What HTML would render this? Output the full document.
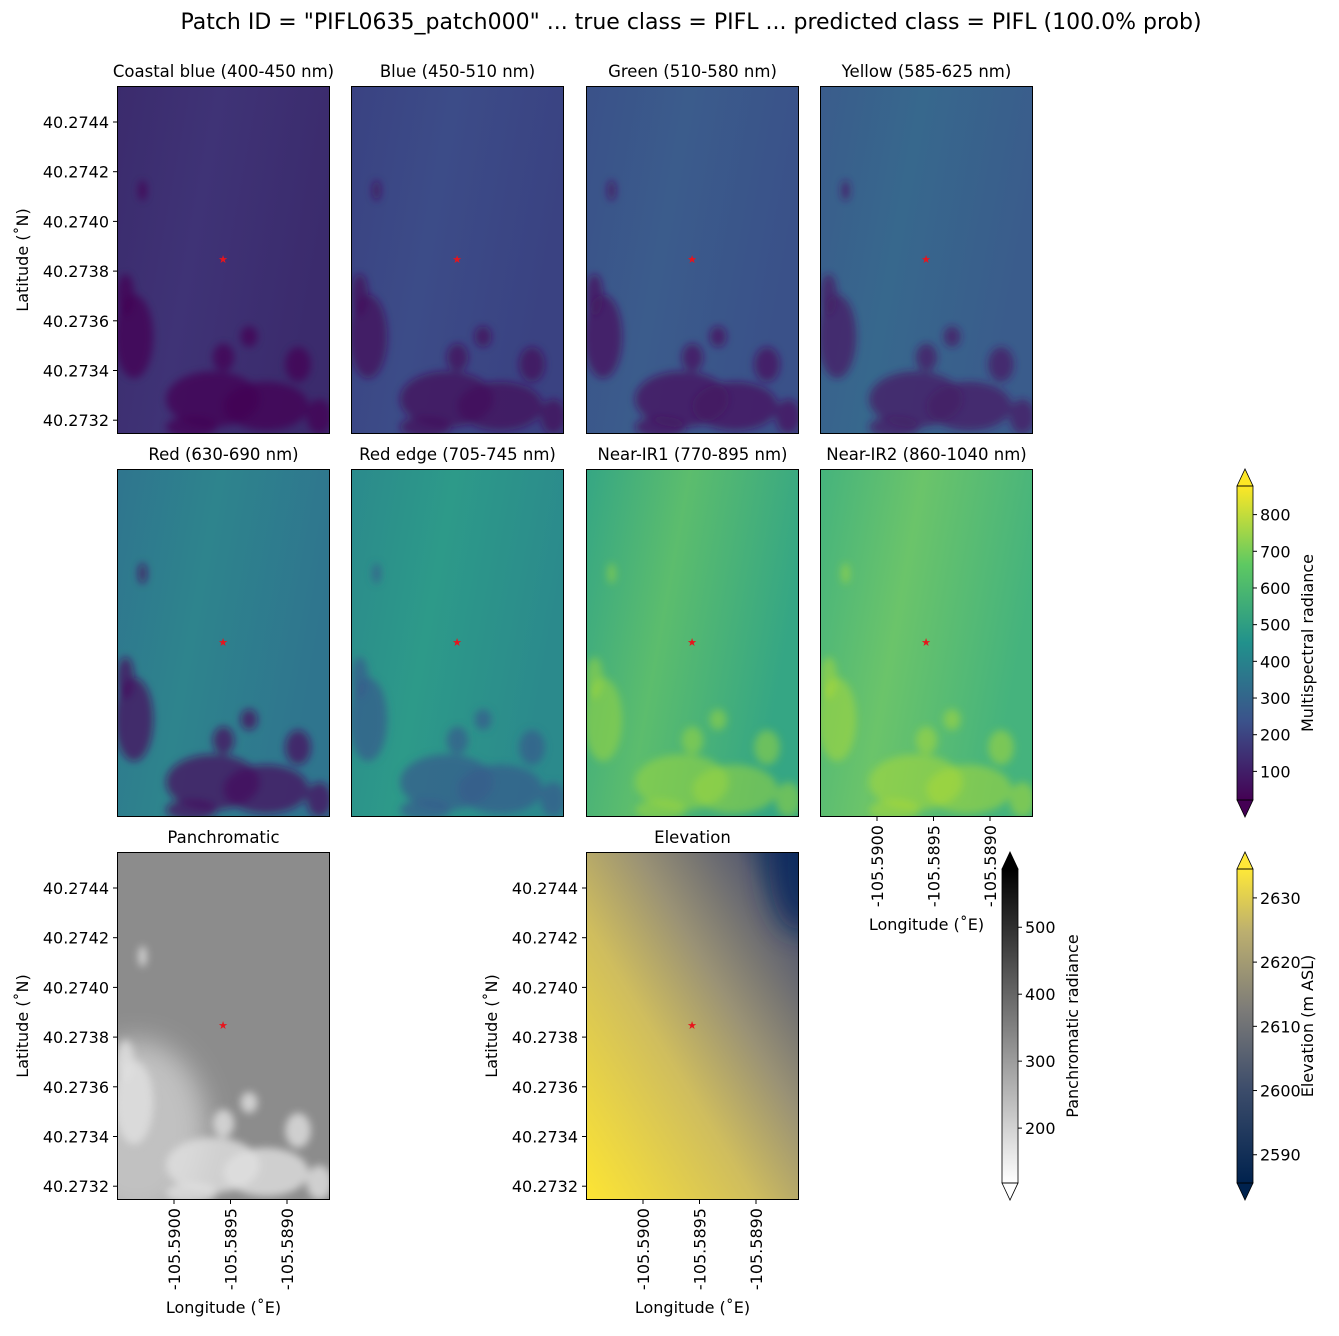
<!DOCTYPE html>
<html><head><meta charset="utf-8"><style>
body{margin:0;background:#fff;font-family:"DejaVu Sans","Liberation Sans",sans-serif;}
svg text{font-family:"DejaVu Sans","Liberation Sans",sans-serif;fill:#000;}
</style></head><body>
<svg id="fig" width="1339" height="1332" viewBox="0 0 1339 1332" xmlns="http://www.w3.org/2000/svg">
<defs>
<clipPath id="pclip"><rect x="0" y="0" width="213" height="348"/></clipPath>
<linearGradient id="viridis" x1="0" y1="1" x2="0" y2="0">
<stop offset="0" stop-color="#440154"/><stop offset="0.25" stop-color="#3b528b"/><stop offset="0.5" stop-color="#21918c"/><stop offset="0.75" stop-color="#5ec962"/><stop offset="1" stop-color="#fde725"/></linearGradient>
<linearGradient id="greys" x1="0" y1="1" x2="0" y2="0"><stop offset="0" stop-color="#fff"/><stop offset="1" stop-color="#000"/></linearGradient>
<linearGradient id="cividis" x1="0" y1="1" x2="0" y2="0"><stop offset="0" stop-color="#00224e"/><stop offset="0.3" stop-color="#3d4d6b"/><stop offset="0.55" stop-color="#7c7b78"/><stop offset="0.8" stop-color="#bcaf6f"/><stop offset="1" stop-color="#fee838"/></linearGradient>
<linearGradient id="elevg" x1="0" y1="1" x2="1" y2="0"><stop offset="0" stop-color="#fde533"/><stop offset="0.4" stop-color="#cfbd5e"/><stop offset="0.62" stop-color="#9a9275"/><stop offset="0.85" stop-color="#5d6070"/><stop offset="1" stop-color="#0a2a5e"/></linearGradient>
<filter id="blur" x="-50%" y="-50%" width="200%" height="200%"><feGaussianBlur stdDeviation="4"/></filter>
<filter id="blur2" x="-100%" y="-100%" width="300%" height="300%"><feGaussianBlur stdDeviation="14"/></filter>
</defs>
<text x="691" y="29" font-size="22" text-anchor="middle">Patch ID = "PIFL0635_patch000" ... true class = PIFL ... predicted class = PIFL (100.0% prob)</text>
<g id="panels"></g>
</svg>
<script>
const bandNames=["Coastal blue (400-450 nm)","Blue (450-510 nm)","Green (510-580 nm)","Yellow (585-625 nm)","Red (630-690 nm)","Red edge (705-745 nm)","Near-IR1 (770-895 nm)","Near-IR2 (860-1040 nm)"];
const bandBase=["#3b2b6d","#3a4282","#3a5189","#3a5c8c","#2f758e","#2b8a8c","#35a684","#45b37d"];
const bandLight=["#3f3376","#3c4c88","#3b5c8c","#37688d","#2e848d","#2d9a89","#5cbd6d","#6bc46a"];
const bandDark=["#440154","#440f5c","#451560","#461d65","#45105f","#355e8c","#2e8a8c","#3a9d86"];
const bandBright=[null,null,null,null,null,null,"#a2da37","#b0dc30"];
const latTicks=["40.2744","40.2742","40.2740","40.2738","40.2736","40.2734","40.2732"];
const latVals=[40.2744,40.2742,40.2740,40.2738,40.2736,40.2734,40.2732];
const lonTicks=["-105.5900","-105.5895","-105.5890"];
const lonVals=[-105.5900,-105.5895,-105.5890];
const msTicks=[100,200,300,400,500,600,700,800];
const panTicks=[200,300,400,500];
const elevTicks=[2590,2600,2610,2620,2630];
const blobs=[[0.08,0.72,0.09,0.12],[0.04,0.6,0.04,0.06],[0.45,0.9,0.22,0.08],[0.7,0.92,0.2,0.07],[0.5,0.78,0.05,0.04],[0.62,0.72,0.04,0.03],[0.85,0.8,0.06,0.05],[0.35,0.98,0.12,0.03],[0.12,0.3,0.02,0.03],[0.95,0.95,0.06,0.05]];
const NS="http://www.w3.org/2000/svg";
const g=document.getElementById('panels');
const PW=213,PH=348;
function el(t,a,p){const e=document.createElementNS(NS,t);for(const k in a)e.setAttribute(k,a[k]);(p||g).appendChild(e);return e;}
const latY=v=>36+(40.2744-v)/0.0002*49.7;
const lonX=v=>57+(v+105.5900)/0.0005*56.5;
function star(x,y,p){const s=el('text',{x:x,y:y+4,'font-size':11,'text-anchor':'middle',style:'fill:#e8141c'},p);s.textContent='★';}
function panel(x,y,title,name){
 const p=el('g',{transform:`translate(${x},${y})`});
 
 const t=el('text',{x:PW/2,y:-9,'font-size':16.5,'text-anchor':'middle'},p);t.textContent=title;
 
 return p;}
function latAxis(p){for(let i=0;i<latVals.length;i++){const yy=latY(latVals[i]);el('line',{x1:-4,x2:0,y1:yy,y2:yy,stroke:'#000'},p);const t=el('text',{x:-8,y:yy+6,'font-size':16,'text-anchor':'end'},p);t.textContent=latTicks[i];}
 const l=el('text',{x:0,y:0,'font-size':16,'text-anchor':'middle',transform:`translate(-89,${PH/2}) rotate(-90)`},p);l.textContent='Latitude (˚N)';}
function lonAxis(p){for(let i=0;i<lonVals.length;i++){const xx=lonX(lonVals[i]);el('line',{x1:xx,x2:xx,y1:PH,y2:PH+4,stroke:'#000'},p);const t=el('text',{x:0,y:0,'font-size':16,'text-anchor':'end',transform:`translate(${xx+6},${PH+8}) rotate(-90)`},p);t.textContent=lonTicks[i];}
 const l=el('text',{x:PW/2,y:PH+113,'font-size':16,'text-anchor':'middle'},p);l.textContent='Longitude (˚E)';}
const px=[117,351,586,820],py=[86,469];
bandNames.forEach((nm,i)=>{
 const p=panel(px[i%4],py[Math.floor(i/4)],nm,'band-panel-'+i);
 const c=el('g',{'clip-path':'url(#pclip)'},p);
 const id='bg'+i;const lg=el('linearGradient',{id:id,x1:0,y1:0,x2:1,y2:0.3},document.querySelector('defs'));
 el('stop',{offset:0,'stop-color':bandBase[i]},lg);el('stop',{offset:0.45,'stop-color':bandLight[i]},lg);el('stop',{offset:1,'stop-color':bandBase[i]},lg);
 el('rect',{x:0,y:0,width:PW,height:PH,fill:`url(#${id})`},c);
 const bg=el('g',{filter:'url(#blur)'},c);
 blobs.forEach(b=>el('ellipse',{cx:b[0]*PW,cy:b[1]*PH,rx:b[2]*PW,ry:b[3]*PH,fill:bandBright[i]||bandDark[i],opacity:bandBright[i]?0.5:0.75},bg));
 el('rect',{x:0.5,y:0.5,width:PW-1,height:PH-1,fill:'none',stroke:'#000'},p);
 star(106,173,p);
 if(i===0)latAxis(p);
 if(i===7)lonAxis(p);
});
const pp=panel(117,852,'Panchromatic','panchromatic-panel');
const pc=el('g',{'clip-path':'url(#pclip)'},pp);
el('rect',{x:0,y:0,width:PW,height:PH,fill:'#8c8c8c'},pc);
el('ellipse',{cx:20,cy:PH*0.8,rx:70,ry:90,fill:'#d8d8d8',opacity:0.7,filter:'url(#blur2)'},pc);
const pg=el('g',{filter:'url(#blur)'},pc);
blobs.forEach(b=>el('ellipse',{cx:b[0]*PW,cy:b[1]*PH,rx:b[2]*PW,ry:b[3]*PH,fill:'#e0e0e0',opacity:0.8},pg));
el('rect',{x:0.5,y:0.5,width:PW-1,height:PH-1,fill:'none',stroke:'#000'},pp);
star(106,173,pp);latAxis(pp);lonAxis(pp);
const ep=panel(586,852,'Elevation','elevation-panel');
const ec=el('g',{'clip-path':'url(#pclip)'},ep);
el('rect',{x:0,y:0,width:PW,height:PH,fill:'url(#elevg)'},ec);
el('ellipse',{cx:PW,cy:10,rx:30,ry:70,fill:'#0a2a5e',opacity:0.8,filter:'url(#blur2)'},ec);
el('rect',{x:0.5,y:0.5,width:PW-1,height:PH-1,fill:'none',stroke:'#000'},ep);
star(106,173,ep);latAxis(ep);lonAxis(ep);
function cbar(x,y0,y1,grad,ticks,vmin,vmax,label,name,topCol,botCol){
 const c=el('g',{});
 el('rect',{x:x,y:y0+17,width:16,height:y1-y0-34,fill:`url(#${grad})`},c);
 el('polygon',{points:`${x},${y0+17} ${x+8},${y0} ${x+16},${y0+17}`,fill:topCol,stroke:'#000','stroke-width':0.8},c);
 el('polygon',{points:`${x},${y1-17} ${x+8},${y1} ${x+16},${y1-17}`,fill:botCol,stroke:'#000','stroke-width':0.8},c);
 el('rect',{x:x,y:y0+17,width:16,height:y1-y0-34,fill:'none',stroke:'#000','stroke-width':0.8},c);
 const yv=v=>(y1-17)-(v-vmin)/(vmax-vmin)*(y1-y0-34);
 ticks.forEach(v=>{const yy=yv(v);el('line',{x1:x+16,x2:x+20,y1:yy,y2:yy,stroke:'#000'},c);const t=el('text',{x:x+23,y:yy+6,'font-size':16},c);t.textContent=v;});
 const l=el('text',{x:0,y:0,'font-size':16,'text-anchor':'middle',transform:`translate(${x+76},${(y0+y1)/2}) rotate(-90)`},c);l.textContent=label;
}
cbar(1237,469,817,'viridis',msTicks,22,878,'Multispectral radiance','multispectral-colorbar','#fde725','#440154');
cbar(1002,852,1200,'greys',panTicks,118,587,'Panchromatic radiance','panchromatic-colorbar','#000','#fff');
cbar(1237,852,1200,'cividis',elevTicks,2585.6,2634.5,'Elevation (m ASL)','elevation-colorbar','#fee838','#00224e');
</script>
</body></html>
